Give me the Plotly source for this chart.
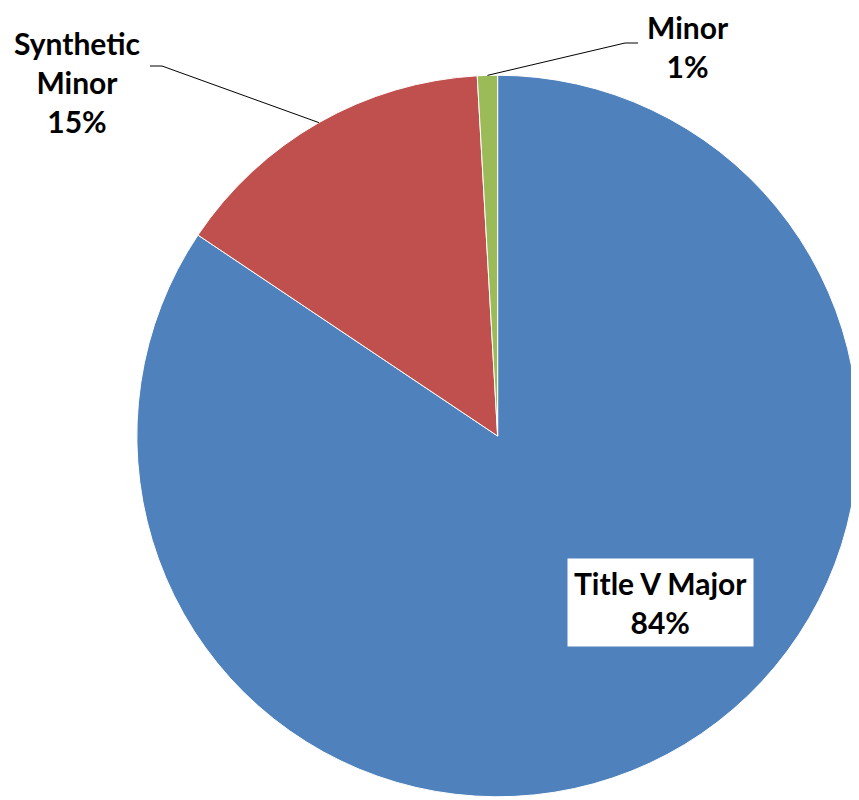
import math
import plotly.graph_objects as go

categories = ["Title V Major", "Synthetic Minor", "Minor"]
values = [84.4, 14.7, 0.9]
colors = ["#4F81BD", "#C0504D", "#9BBB59"]

W, H = 859, 800
OFF = 8  # page body margin offset of the rendered figure

def px(vx, vy):
    """viewport pixel -> paper coords"""
    return (vx - OFF) / W, 1 - (vy - OFF) / H

dom_x = [0.15, 0.99]
dom_y = [0.0125, 0.9175]

fig = go.Figure(go.Pie(
    labels=categories, values=values, sort=False, direction="clockwise",
    rotation=0, textinfo="none", hoverinfo="label+percent",
    marker=dict(colors=colors, line=dict(color="white", width=1)),
    domain=dict(x=dom_x, y=dom_y), showlegend=False,
))

# pie geometry in paper coords, used for leader-line anchors
cx_px = (dom_x[0] + dom_x[1]) / 2 * W
cy_px = (dom_y[0] + dom_y[1]) / 2 * H
r_px = min((dom_x[1] - dom_x[0]) * W, (dom_y[1] - dom_y[0]) * H) / 2
total = sum(values)

def edge_point(i):
    start = sum(values[:i]) / total * 360
    mid = start + values[i] / total * 180
    a = math.radians(mid)
    return (cx_px + r_px * math.sin(a)) / W, (cy_px + r_px * math.cos(a)) / H

pct = [round(v / total * 100) for v in values]
font = dict(family="Lato, 'Open Sans', sans-serif", size=30, color="black")

anns = []
x, y = px(660, 602)
anns.append(dict(x=x, y=y, text=f"<b>{categories[0]}</b><br><b>{pct[0]}%</b>",
                 bgcolor="white", borderpad=6, yanchor="middle"))
x, y = px(77, 82)
anns.append(dict(x=x, y=y, text="<b>Synthetic</b><br><b>Minor</b><br><b>" + f"{pct[1]}%</b>",
                 yanchor="middle"))
x, _ = px(688, 42)
anns.append(dict(x=x, y=1.0, text=f"<b>{categories[2]}</b><br><b>{pct[2]}%</b>",
                 yanchor="top", borderpad=0))
for a in anns:
    a.update(xref="paper", yref="paper", showarrow=False, font=font, align="center",
             xanchor="center")

shapes = []
ex, ey = edge_point(1)
x1, y1 = px(150, 66)
x2, y2 = px(162, 66)
shapes.append(dict(type="path", xref="paper", yref="paper",
                   path=f"M {x1} {y1} L {x2} {y2} L {ex} {ey}",
                   line=dict(color="black", width=1)))
ex, ey = edge_point(2)
x1, y1 = px(638, 43)
x2, y2 = px(625, 43)
shapes.append(dict(type="path", xref="paper", yref="paper",
                   path=f"M {x1} {y1} L {x2} {y2} L {ex} {ey}",
                   line=dict(color="black", width=1)))

fig.update_layout(width=W, height=H, margin=dict(l=0, r=0, t=0, b=0),
                  paper_bgcolor="white", plot_bgcolor="white",
                  annotations=anns, shapes=shapes)
fig.write_html("out.html")
